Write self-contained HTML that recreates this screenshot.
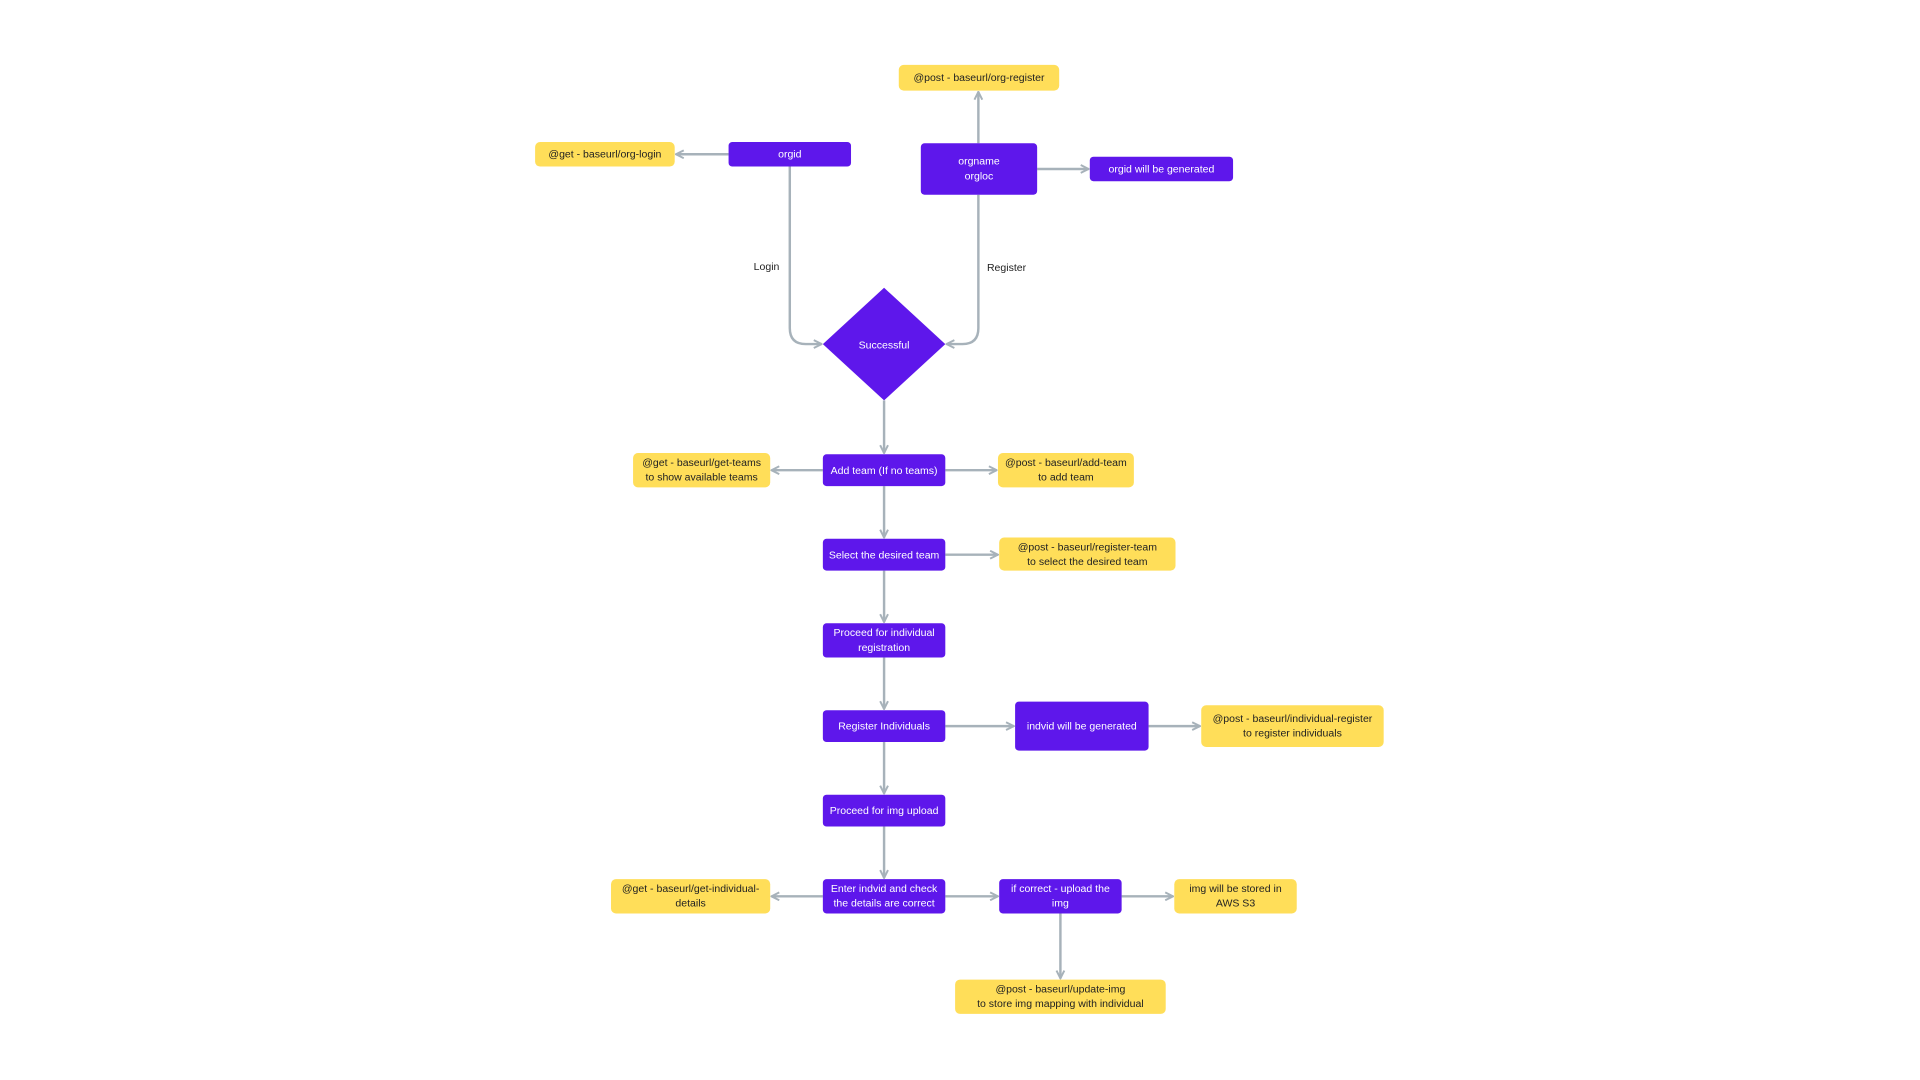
<!DOCTYPE html>
<html><head><meta charset="utf-8"><style>
html,body{margin:0;padding:0;background:#fff;width:1920px;height:1080px;overflow:hidden}
svg{display:block}
text{font-family:"Liberation Sans",sans-serif;font-size:8.6px;text-anchor:middle;dominant-baseline:central}
.p{fill:#5e17eb}.y{fill:#ffde59}
.pt{fill:#fff}.yt{fill:#222}
.l{stroke:#a7b2ba;stroke-width:2;fill:none}
</style></head><body>
<svg width="1920" height="1080" viewBox="0 0 1568 882" xmlns="http://www.w3.org/2000/svg">
<defs><marker id="a" viewBox="0 0 10 10" refX="9" refY="5" markerWidth="4" markerHeight="4" orient="auto"><path d="M1 1 L9 5 L1 9" fill="none" stroke="#a7b2ba" stroke-width="2"/></marker></defs>
<g class="l">
<path d="M799 117 V75" marker-end="url(#a)"/>
<path d="M595 126 H552" marker-end="url(#a)"/>
<path d="M847 138 H889" marker-end="url(#a)"/>
<path d="M645 136 V268 Q645 281 658 281 H671" marker-end="url(#a)"/>
<path d="M799 159 V268 Q799 281 786 281 H773" marker-end="url(#a)"/>
<path d="M722 327 V370" marker-end="url(#a)"/>
<path d="M672 384 H630" marker-end="url(#a)"/>
<path d="M772 384 H814" marker-end="url(#a)"/>
<path d="M722 397 V439" marker-end="url(#a)"/>
<path d="M772 453 H815" marker-end="url(#a)"/>
<path d="M722 466 V508" marker-end="url(#a)"/>
<path d="M722 537 V579" marker-end="url(#a)"/>
<path d="M772 593 H828" marker-end="url(#a)"/>
<path d="M938 593 H980" marker-end="url(#a)"/>
<path d="M722 606 V648" marker-end="url(#a)"/>
<path d="M722 675 V717" marker-end="url(#a)"/>
<path d="M672 732 H630" marker-end="url(#a)"/>
<path d="M772 732 H815" marker-end="url(#a)"/>
<path d="M916 732 H958" marker-end="url(#a)"/>
<path d="M866 746 V799" marker-end="url(#a)"/>
</g>
<rect class="y" x="734" y="53" width="131" height="21" rx="4"/><text class="yt" x="799.5" y="63.5">@post - baseurl/org-register</text>
<rect class="y" x="437" y="116" width="114" height="20" rx="4"/><text class="yt" x="494" y="126">@get - baseurl/org-login</text>
<rect class="p" x="595" y="116" width="100" height="20" rx="3"/><text class="pt" x="645" y="126">orgid</text>
<rect class="p" x="752" y="117" width="95" height="42" rx="3"/><text class="pt" x="799.5" y="132">orgname</text><text class="pt" x="799.5" y="144">orgloc</text>
<rect class="p" x="890" y="128" width="117" height="20" rx="3"/><text class="pt" x="948.5" y="138.5">orgid will be generated</text>
<text x="626" y="218" style="fill:#222">Login</text>
<text x="822" y="219" style="fill:#222">Register</text>
<path class="p" d="M722 235 L772 281 L722 327 L672 281 Z"/><text class="pt" x="722" y="282">Successful</text>
<rect class="y" x="517" y="370" width="112" height="28" rx="4"/><text class="yt" x="573" y="378">@get - baseurl/get-teams</text><text class="yt" x="573" y="390">to show available teams</text>
<rect class="p" x="672" y="371" width="100" height="26" rx="3"/><text class="pt" x="722" y="384.5">Add team (If no teams)</text>
<rect class="y" x="815" y="370" width="111" height="28" rx="4"/><text class="yt" x="870.5" y="378">@post - baseurl/add-team</text><text class="yt" x="870.5" y="390">to add team</text>
<rect class="p" x="672" y="440" width="100" height="26" rx="3"/><text class="pt" x="722" y="453.5">Select the desired team</text>
<rect class="y" x="816" y="439" width="144" height="27" rx="4"/><text class="yt" x="888" y="447">@post - baseurl/register-team</text><text class="yt" x="888" y="459">to select the desired team</text>
<rect class="p" x="672" y="509" width="100" height="28" rx="3"/><text class="pt" x="722" y="517">Proceed for individual</text><text class="pt" x="722" y="529">registration</text>
<rect class="p" x="672" y="580" width="100" height="26" rx="3"/><text class="pt" x="722" y="593.5">Register Individuals</text>
<rect class="p" x="829" y="573" width="109" height="40" rx="3"/><text class="pt" x="883.5" y="593.5">indvid will be generated</text>
<rect class="y" x="981" y="576" width="149" height="34" rx="4"/><text class="yt" x="1055.5" y="587">@post - baseurl/individual-register</text><text class="yt" x="1055.5" y="599">to register individuals</text>
<rect class="p" x="672" y="649" width="100" height="26" rx="3"/><text class="pt" x="722" y="662.5">Proceed for img upload</text>
<rect class="y" x="499" y="718" width="130" height="28" rx="4"/><text class="yt" x="564" y="726">@get - baseurl/get-individual-</text><text class="yt" x="564" y="738">details</text>
<rect class="p" x="672" y="718" width="100" height="28" rx="3"/><text class="pt" x="722" y="726">Enter indvid and check</text><text class="pt" x="722" y="738">the details are correct</text>
<rect class="p" x="816" y="718" width="100" height="28" rx="3"/><text class="pt" x="866" y="726">if correct - upload the</text><text class="pt" x="866" y="738">img</text>
<rect class="y" x="959" y="718" width="100" height="28" rx="4"/><text class="yt" x="1009" y="726">img will be stored in</text><text class="yt" x="1009" y="738">AWS S3</text>
<rect class="y" x="780" y="800" width="172" height="28" rx="4"/><text class="yt" x="866" y="808">@post - baseurl/update-img</text><text class="yt" x="866" y="820">to store img mapping with individual</text>
</svg>
</body></html>
